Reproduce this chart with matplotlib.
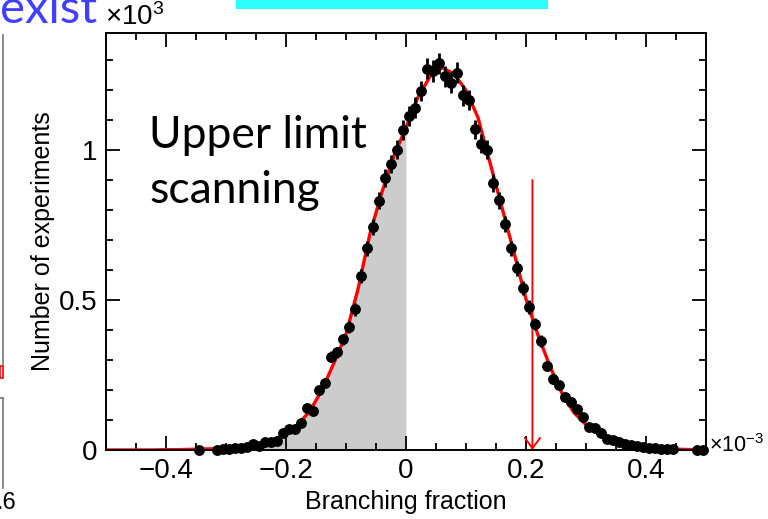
import numpy as np
import matplotlib.pyplot as plt
from matplotlib.patches import Rectangle
from matplotlib.ticker import MultipleLocator

plt.rcParams['font.family'] = ['Liberation Sans', 'DejaVu Sans']
plt.rcParams['mathtext.fontset'] = 'custom'
plt.rcParams['mathtext.rm'] = 'Liberation Sans'
plt.rcParams['mathtext.it'] = 'Liberation Sans'

# toy-MC upper limit scan (x in 1e-3, counts in 1e3)
bf = [-0.345, -0.315, -0.305, -0.295, -0.285, -0.275, -0.265, -0.255, -0.245, -0.235,
      -0.225, -0.215, -0.205, -0.195, -0.185, -0.175, -0.165, -0.155, -0.145, -0.135,
      -0.125, -0.115, -0.105, -0.095, -0.085, -0.075, -0.065, -0.055, -0.045, -0.035,
      -0.025, -0.015, -0.005, 0.005, 0.015, 0.025, 0.035, 0.045, 0.055, 0.065,
      0.075, 0.085, 0.095, 0.105, 0.115, 0.125, 0.135, 0.145, 0.155, 0.165,
      0.175, 0.185, 0.195, 0.205, 0.215, 0.225, 0.235, 0.245, 0.255, 0.265,
      0.275, 0.285, 0.295, 0.305, 0.315, 0.325, 0.335, 0.345, 0.355, 0.365,
      0.375, 0.385, 0.395, 0.405, 0.415, 0.425, 0.435, 0.445, 0.485, 0.495]
n_exp = [0.001, 0.001, 0.002, 0.003, 0.005, 0.008, 0.011, 0.019, 0.013, 0.025,
         0.028, 0.030, 0.058, 0.070, 0.070, 0.089, 0.139, 0.131, 0.200, 0.224,
         0.311, 0.326, 0.369, 0.411, 0.469, 0.580, 0.672, 0.744, 0.831, 0.906,
         0.953, 1.002, 1.067, 1.114, 1.142, 1.197, 1.272, 1.264, 1.289, 1.247,
         1.224, 1.258, 1.183, 1.167, 1.069, 1.022, 1.002, 0.889, 0.833, 0.753,
         0.672, 0.606, 0.539, 0.477, 0.421, 0.364, 0.281, 0.237, 0.217, 0.178,
         0.161, 0.136, 0.111, 0.076, 0.072, 0.058, 0.037, 0.033, 0.028, 0.020,
         0.017, 0.013, 0.011, 0.008, 0.006, 0.003, 0.002, 0.002, 0.001, 0.001]

# fitted curve
fit_x = [-0.50, -0.48, -0.46, -0.44, -0.42, -0.40, -0.38, -0.36, -0.34, -0.32,
         -0.30, -0.28, -0.26, -0.24, -0.22, -0.20, -0.18, -0.16, -0.14, -0.12,
         -0.10, -0.08, -0.06, -0.04, -0.02, 0.00, 0.02, 0.04, 0.06, 0.08,
         0.10, 0.12, 0.14, 0.16, 0.18, 0.20, 0.22, 0.24, 0.26, 0.28,
         0.30, 0.32, 0.34, 0.36, 0.38, 0.40, 0.42, 0.44, 0.46, 0.48, 0.50]
fit_y = [0.0, 0.0, 0.0, 0.0, 0.0, 0.001, 0.001, 0.002, 0.003, 0.004,
         0.006, 0.009, 0.014, 0.022, 0.035, 0.055, 0.085, 0.130, 0.200, 0.290,
         0.385, 0.535, 0.720, 0.860, 0.980, 1.075, 1.175, 1.245, 1.275, 1.255,
         1.200, 1.110, 0.960, 0.810, 0.660, 0.505, 0.385, 0.280, 0.190, 0.125,
         0.085, 0.055, 0.033, 0.020, 0.012, 0.008, 0.005, 0.003, 0.002, 0.001, 0.0]

upper_limit = 0.211

fig = plt.figure(figsize=(7.68, 5.19), dpi=100)
ax = fig.add_axes([0.138, 0.133, 0.781, 0.803])

fx = np.array(fit_x)
fy = np.array(fit_y)
neg = fx <= 0
ax.fill_between(fx[neg], 0, fy[neg], color='#cccccc', lw=0, zorder=1)
ax.plot(fx, fy, color='red', lw=2.4, zorder=2)

y = np.array(n_exp)
err = np.sqrt(y * 1000) / 1000
ax.errorbar(bf, y, yerr=err, fmt='o', color='black', ms=6.8, elinewidth=2,
            capsize=0, zorder=3, clip_on=False)

ax.annotate('', xy=(upper_limit, 0), xytext=(upper_limit, 0.9),
            arrowprops=dict(arrowstyle='->,head_length=0.75,head_width=0.55',
                            color='red', lw=1.4, shrinkA=0, shrinkB=0))

ax.set_xlim(-0.5, 0.5)
ax.set_ylim(0, 1.39)
ax.xaxis.set_major_locator(MultipleLocator(0.2))
ax.xaxis.set_minor_locator(MultipleLocator(0.05))
ax.yaxis.set_major_locator(MultipleLocator(0.5))
ax.yaxis.set_minor_locator(MultipleLocator(0.1))
ax.set_xticks([-0.4, -0.2, 0, 0.2, 0.4])
ax.set_xticklabels(['\u22120.4', '\u22120.2', '0', '0.2', '0.4'])
ax.set_yticks([0, 0.5, 1])
ax.set_yticklabels(['0', '0.5', '1'])
ax.tick_params(which='both', direction='in', top=True, right=True, width=1.3,
               labelsize=20, pad=6)
ax.tick_params(which='major', length=10)
ax.tick_params(which='minor', length=5)
for s in ax.spines.values():
    s.set_linewidth(1.4)

ax.set_xlabel('Branching fraction', fontsize=18, labelpad=4)
ax.set_ylabel('Number of experiments', fontsize=18, labelpad=3)
ax.text(-0.002, 1.005, r'$\times10^{3}$', transform=ax.transAxes, fontsize=20,
        ha='left', va='bottom')
ax.text(1.006, 0.01, r'$\times10^{-3}$', transform=ax.transAxes, fontsize=15.5,
        ha='left', va='center')

ax.text(-0.428, 1.007, 'Upper limit', fontsize=32, family=['Lato', 'DejaVu Sans'],
        va='baseline')
ax.text(-0.428, 0.823, 'scanning', fontsize=32, family=['Lato', 'DejaVu Sans'],
        va='baseline')

# bits of the slide around the plot
fig.text(0.0, 1 - 23 / 519, 'exist', fontsize=34, color='#3f3fff',
         family=['Lato', 'DejaVu Sans'], va='baseline')
fig.patches.append(Rectangle((236 / 768, 1 - 9 / 519), 312 / 768, 9 / 519,
                             transform=fig.transFigure, color='#2bffff', lw=0))
fig.add_artist(plt.Line2D([3 / 768, 3 / 768], [1 - 35 / 519, 1 - 365 / 519],
                          color='#777777', lw=1.2))
fig.add_artist(plt.Line2D([3 / 768, 3 / 768], [1 - 398 / 519, 1 - 488 / 519],
                          color='#777777', lw=1.2))
fig.add_artist(plt.Line2D([0, 3 / 768], [1 - 398 / 519, 1 - 398 / 519],
                          color='#777777', lw=1.2))
fig.patches.append(Rectangle((0, 1 - 378 / 519), 3 / 768, 12 / 519,
                             transform=fig.transFigure, fc='none', ec='red', lw=1.2))
fig.text(-0.004, 1 - 503 / 519, '.6', fontsize=17, va='center')

fig.savefig('out.png', dpi=100)
